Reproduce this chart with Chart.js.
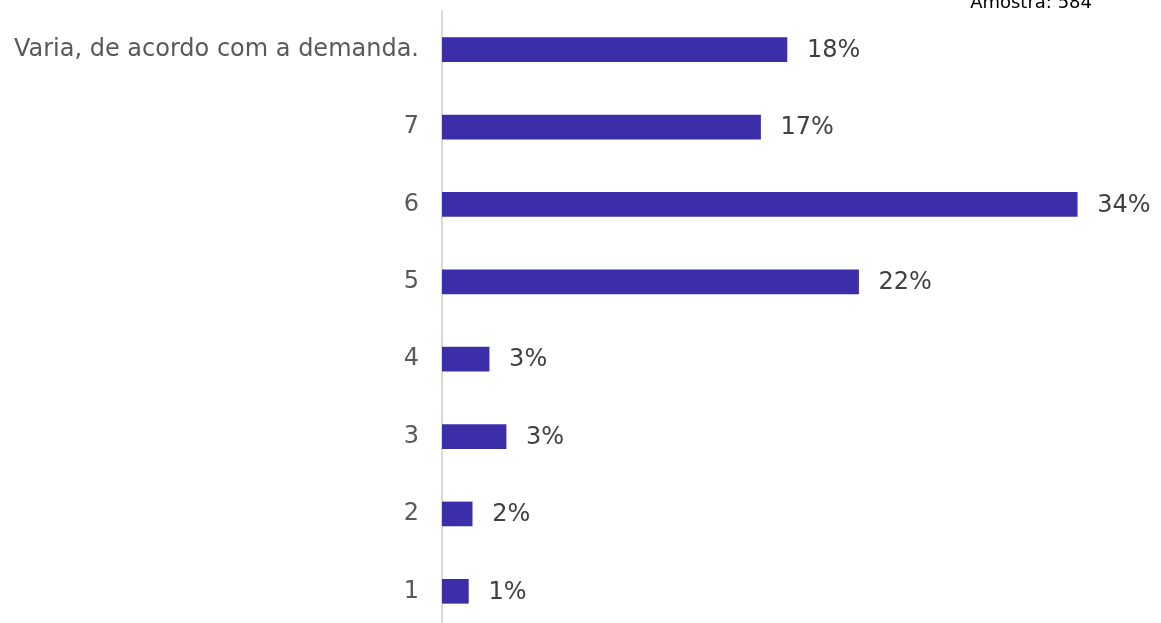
<!DOCTYPE html>
<html>
<head>
<meta charset="utf-8">
<script src="https://cdn.jsdelivr.net/npm/chart.js@4"></script>
<style>
html,body{margin:0;padding:0;background:#fff;overflow:hidden;}
#wrap{position:relative;width:1161px;height:632px;}
</style>
</head>
<body>
<div id="wrap"><canvas id="c" width="1161" height="632"></canvas></div>
<script>
const categories = ["Varia, de acordo com a demanda.", "7", "6", "5", "4", "3", "2", "1"];
const values = [18.3, 16.9, 33.7, 22.1, 2.5, 3.4, 1.6, 1.4];
const valueLabels = ["18%", "17%", "34%", "22%", "3%", "3%", "2%", "1%"];
const sampleText = "Amostra: 584";

const FONT = "'DejaVu Sans', sans-serif";

const labelPlugin = {
  id: 'valueLabels',
  afterDatasetsDraw(chart) {
    const ctx = chart.ctx;
    const meta = chart.getDatasetMeta(0);
    ctx.save();
    ctx.font = "24px " + FONT;
    ctx.fillStyle = "#404040";
    ctx.textAlign = "left";
    ctx.textBaseline = "middle";
    meta.data.forEach((bar, i) => {
      ctx.fillText(valueLabels[i], bar.x + 20, bar.y + 1);
    });
    ctx.font = "18px " + FONT;
    ctx.fillStyle = "#000000";
    ctx.textAlign = "right";
    ctx.textBaseline = "alphabetic";
    ctx.fillText(sampleText, 1092, 8);
    ctx.restore();
  }
};

new Chart(document.getElementById('c'), {
  type: 'bar',
  data: {
    labels: categories,
    datasets: [{
      data: values,
      backgroundColor: '#3c2ea8',
      borderWidth: 0,
      barThickness: 24
    }]
  },
  options: {
    indexAxis: 'y',
    responsive: false,
    maintainAspectRatio: false,
    animation: false,
    layout: { padding: { top: 11, bottom: 2, left: 0, right: 11 } },
    plugins: { legend: { display: false }, tooltip: { enabled: false }, title: { display: false } },
    scales: {
      x: {
        display: false,
        min: 0,
        max: 37.56
      },
      y: {
        afterFit(scale) { scale.width = 442; scale.paddingTop = 0; scale.paddingBottom = 0; },
        grid: { display: false, drawTicks: false },
        border: { display: true, color: '#d9d9d9', width: 2 },
        ticks: {
          padding: 23,
          color: '#595959',
          font: { family: FONT, size: 24 }
        }
      }
    }
  },
  plugins: [labelPlugin]
});
</script>
</body>
</html>
